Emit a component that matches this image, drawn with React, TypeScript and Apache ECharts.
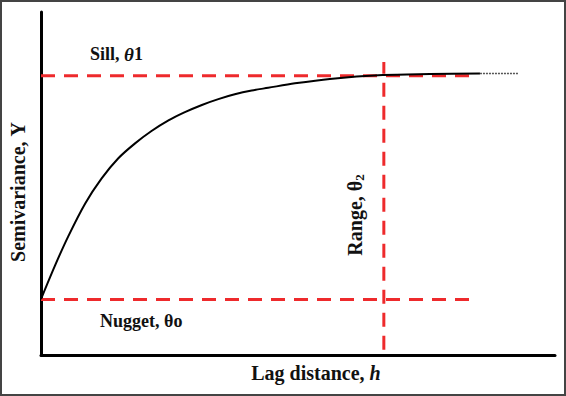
import React, { useEffect, useRef } from "react";
import * as echarts from "echarts";

// Semivariogram curve (solid part)
const lagDistance = [0, 2.7, 5.3, 8.6, 11.8, 15.0, 18.3, 21.5, 24.8, 28.0, 31.3, 34.5, 37.7, 41.0, 44.2, 49.4, 56.2, 66.5, 75.7, 85.4];
const semivariance = [16.3, 26.0, 34.6, 44.2, 51.5, 57.3, 61.7, 65.3, 68.4, 70.8, 72.9, 74.6, 76.0, 77.1, 77.9, 79.2, 80.5, 81.6, 81.9, 82.1];
// Faint dotted tail of the curve
const tailLag = [85.4, 92.8];
const tailValue = [82.1, 82.1];

// Reference levels
const nuggetValue = 16.2;
const sillValue = 81.4;
const rangeValue = 66.7;
const refLineStartX = 0;
const refLineEndX = 85;
const rangeLineY = [1.5, 85.4];

const labelSill = "Sill, ";
const labelNugget = "Nugget, θo";
const labelRange = "Range, ";
const labelY = "Semivariance, Υ";
const labelX = "Lag distance, ";

const RED = "#ee2a2c";
const FONT = "'Liberation Serif', 'Times New Roman', serif";

export default function App() {
  const ref = useRef<HTMLDivElement>(null);
  useEffect(() => {
    if (!ref.current) return;
    const chart = echarts.init(ref.current, null, { renderer: "svg" });
    const dash = { color: RED, width: 3, type: [14, 9] as number[] };
    chart.setOption({
      animation: false,
      backgroundColor: "#fff",
      grid: { left: 41, right: 11, top: 12, bottom: 41 },
      xAxis: {
        type: "value",
        min: 0,
        max: 100,
        axisLine: { show: true, lineStyle: { color: "#000", width: 3 } },
        axisTick: { show: false },
        axisLabel: { show: false },
        splitLine: { show: false },
      },
      yAxis: {
        type: "value",
        min: 0,
        max: 100,
        axisLine: { show: true, lineStyle: { color: "#000", width: 3 } },
        axisTick: { show: false },
        axisLabel: { show: false },
        splitLine: { show: false },
      },
      series: [
        {
          type: "line",
          data: [[refLineStartX, sillValue], [refLineEndX, sillValue]],
          symbol: "none",
          lineStyle: dash,
          z: 2,
        },
        {
          type: "line",
          data: [[refLineStartX, nuggetValue], [refLineEndX, nuggetValue]],
          symbol: "none",
          lineStyle: dash,
          z: 2,
        },
        {
          type: "line",
          data: [[rangeValue, rangeLineY[0]], [rangeValue, rangeLineY[1]]],
          symbol: "none",
          lineStyle: dash,
          z: 2,
        },
        {
          type: "line",
          data: lagDistance.map((x, i) => [x, semivariance[i]]),
          symbol: "none",
          smooth: 0.3,
          lineStyle: { color: "#000", width: 2 },
          z: 3,
        },
        {
          type: "line",
          data: tailLag.map((x, i) => [x, tailValue[i]]),
          symbol: "none",
          lineStyle: { color: "#555", width: 1.5, type: [2, 1] },
          z: 3,
        },
      ],
      graphic: [
        {
          type: "rect",
          shape: { x: 1, y: 1, width: 564, height: 394 },
          style: { fill: "none", stroke: "#444", lineWidth: 2 },
          silent: true,
        },
        {
          type: "text",
          x: 90,
          y: 54,
          style: {
            text: `{a|${labelSill}}{b|θ}{a|1}`,
            verticalAlign: "middle",
            rich: {
              a: { fontFamily: FONT, fontWeight: "bold", fontSize: 18, fill: "#111" },
              b: { fontFamily: FONT, fontWeight: "bold", fontStyle: "italic", fontSize: 19, fill: "#111" },
            },
          },
        },
        {
          type: "text",
          x: 100,
          y: 321,
          style: {
            text: labelNugget,
            fontFamily: FONT,
            fontWeight: "bold",
            fontSize: 18,
            fill: "#111",
            verticalAlign: "middle",
          },
        },
        {
          type: "text",
          x: 355,
          y: 215,
          rotation: Math.PI / 2,
          style: {
            text: `{a|${labelRange}θ}{s|2}`,
            align: "center",
            verticalAlign: "middle",
            rich: {
              a: { fontFamily: FONT, fontWeight: "bold", fontSize: 20, fill: "#111" },
              s: { fontFamily: FONT, fontWeight: "bold", fontSize: 13, fill: "#111", padding: [8, 0, 0, 0] },
            },
          },
        },
        {
          type: "text",
          x: 18,
          y: 192,
          rotation: Math.PI / 2,
          style: {
            text: labelY,
            fontFamily: FONT,
            fontWeight: "bold",
            fontSize: 20,
            fill: "#111",
            align: "center",
            verticalAlign: "middle",
          },
        },
        {
          type: "text",
          x: 316,
          y: 373,
          style: {
            text: `{a|${labelX}}{b|h}`,
            align: "center",
            verticalAlign: "middle",
            rich: {
              a: { fontFamily: FONT, fontWeight: "bold", fontSize: 20, fill: "#111" },
              b: { fontFamily: FONT, fontWeight: "bold", fontStyle: "italic", fontSize: 20, fill: "#111" },
            },
          },
        },
      ],
    });
    return () => chart.dispose();
  }, []);
  return (
    <div
      ref={ref}
      style={{ position: "fixed", left: 0, top: 0, width: 566, height: 396 }}
    />
  );
}
